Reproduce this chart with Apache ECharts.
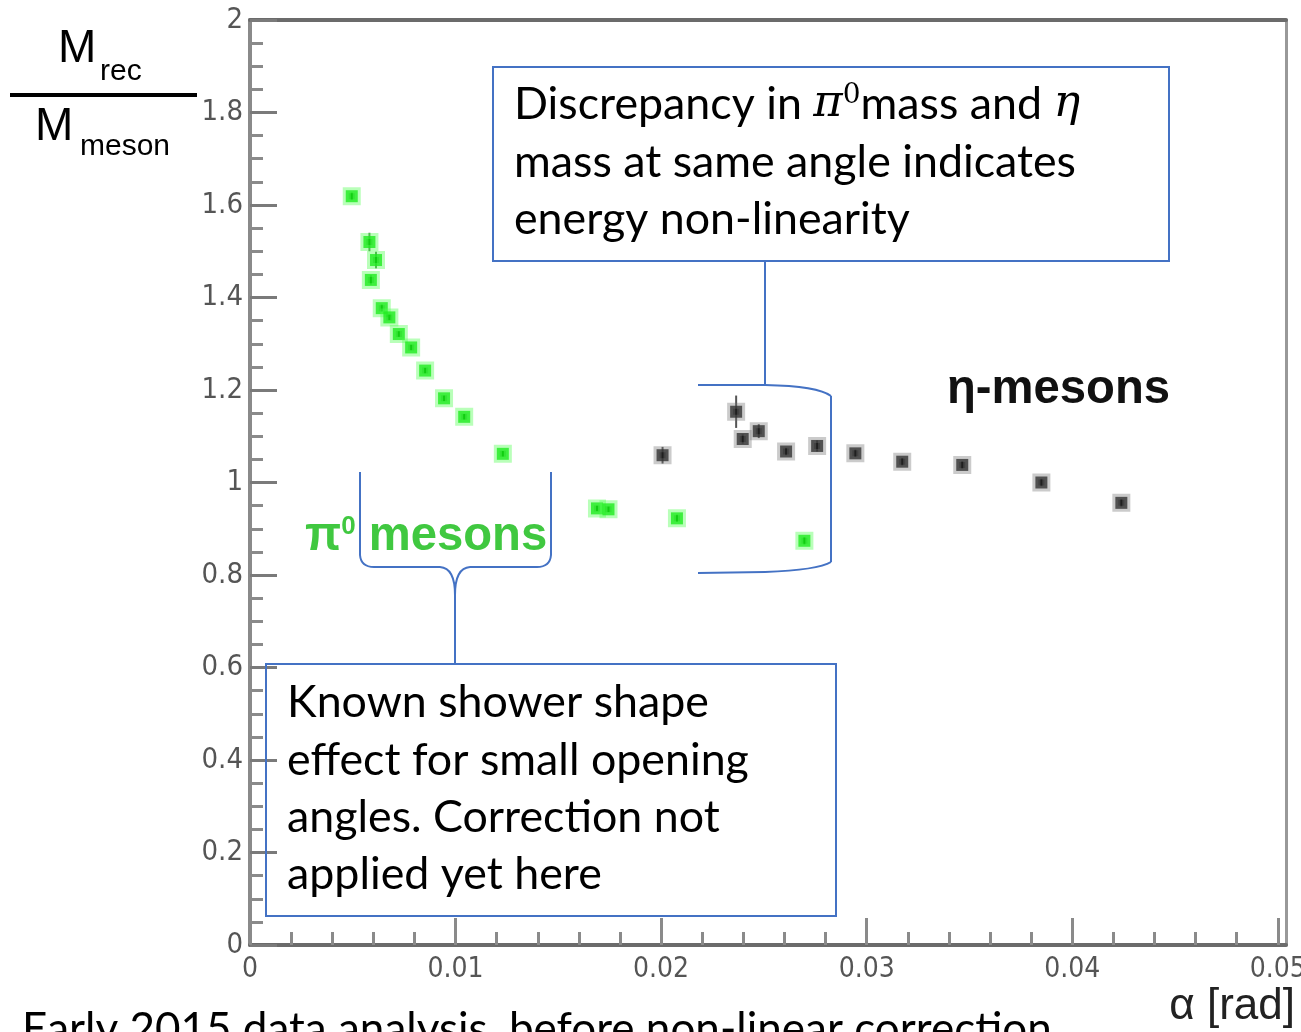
<!DOCTYPE html>
<html>
<head>
<meta charset="utf-8">
<script src="https://cdn.jsdelivr.net/npm/echarts@6/dist/echarts.min.js"></script>
<style>
html, body { margin: 0; padding: 0; background: #fff; }
#main { width: 1301px; height: 1032px; }
</style>
</head>
<body>
<div id="main"></div>
<script>
// pi0 candidates (green points)
var piAlpha = [0.00495, 0.00581, 0.00613, 0.00588, 0.00641, 0.00678, 0.00724, 0.00784, 0.00852, 0.00944, 0.01042, 0.0123, 0.01688, 0.01744, 0.02077, 0.02697];
var piRatio = [1.619, 1.520, 1.481, 1.438, 1.377, 1.357, 1.321, 1.292, 1.242, 1.182, 1.142, 1.062, 0.944, 0.942, 0.9225, 0.874];
var piErr   = [0.008, 0.02, 0.018, 0.01, 0.008, 0.006, 0.006, 0.006, 0.006, 0.006, 0.006, 0.006, 0.006, 0.006, 0.008, 0.008];

// eta candidates (black points)
var etaAlpha = [0.02007, 0.02365, 0.02397, 0.02475, 0.02608, 0.02759, 0.02945, 0.03173, 0.03465, 0.0385, 0.04239];
var etaRatio = [1.059, 1.153, 1.094, 1.111, 1.067, 1.079, 1.063, 1.045, 1.038, 1.000, 0.956];
var etaErr   = [0.018, 0.035, 0.01, 0.015, 0.008, 0.012, 0.008, 0.008, 0.008, 0.008, 0.008];

// axis ticks
var xMajor = [0, 0.01, 0.02, 0.03, 0.04, 0.05];
var xMinor = [0.002, 0.004, 0.006, 0.008, 0.012, 0.014, 0.016, 0.018, 0.022, 0.024, 0.026, 0.028,
              0.032, 0.034, 0.036, 0.038, 0.042, 0.044, 0.046, 0.048];
var xMax = 0.0504;

var NUM_FONT = "'Liberation Sans Narrow', 'DejaVu Sans Condensed', 'Liberation Sans', sans-serif";
var TXT_FONT = "Lato";
var ROOT_FONT = "'Liberation Sans', Arial, sans-serif";
var BLUE = '#4472c4';

var measureCtx = document.createElement('canvas').getContext('2d');
function fitSize(text, font, width) {
    measureCtx.font = '100px ' + font;
    return 100 * width / measureCtx.measureText(text).width;
}
// y of the text centre for a given baseline
function midY(baseline, size, k) {
    return baseline - k * size;
}

var calloutSize = fitSize('mass at same angle indicates', TXT_FONT, 562);
var bottomSize = fitSize('Early 2015 data analysis, before non-linear correction', TXT_FONT, 1030);
var labelSize = fitSize('η-mesons', 'bold ' + ROOT_FONT, 223) * 0.91;
var LATO_K = 0.387, ARIAL_K = 0.3465;

function calloutLine(x, baseline, text) {
    return {
        type: 'text', x: x, y: midY(baseline, calloutSize, LATO_K), z: 100,
        style: { text: text, font: calloutSize + 'px ' + TXT_FONT, fill: '#000', verticalAlign: 'middle' }
    };
}
function seg(x1, y1, x2, y2) {
    return { type: 'line', z: 99, shape: { x1: x1, y1: y1, x2: x2, y2: y2 },
             style: { stroke: BLUE, lineWidth: 2 } };
}
function curve(x1, y1, cx, cy, x2, y2) {
    return { type: 'bezierCurve', z: 99, shape: { x1: x1, y1: y1, cpx1: cx, cpy1: cy, x2: x2, y2: y2 },
             style: { fill: 'none', stroke: BLUE, lineWidth: 2 } };
}

function errorBars(alpha, ratio, err, color) {
    return {
        type: 'custom',
        data: alpha.map(function(a, i) { return [a, ratio[i], err[i]]; }),
        encode: { x: 0, y: 1 },
        z: 3,
        renderItem: function(params, api) {
            var hi = api.coord([api.value(0), api.value(1) + api.value(2)]);
            var lo = api.coord([api.value(0), api.value(1) - api.value(2)]);
            return {
                type: 'line',
                shape: { x1: hi[0], y1: hi[1], x2: lo[0], y2: lo[1] },
                style: { stroke: color, lineWidth: 2 }
            };
        }
    };
}

var option = {
    animation: false,
    backgroundColor: '#fff',
    grid: { left: 250, top: 20, right: 15, bottom: 87, outerBoundsMode: 'none', containLabel: false },
    xAxis: [{
        type: 'value', min: 0, max: xMax, position: 'bottom',
        axisLine: { onZero: false, lineStyle: { color: '#6b6b6b', width: 4 } },
        axisTick: { inside: true, length: 27, customValues: xMajor, lineStyle: { color: '#8a8a8a', width: 3 } },
        axisLabel: {
            customValues: xMajor, margin: 11, fontSize: 28, color: '#555', fontFamily: NUM_FONT,
            formatter: function(v) { return v === 0 ? '0' : v.toFixed(2); }
        },
        splitLine: { show: false }
    }, {
        type: 'value', min: 0, max: xMax, position: 'bottom',
        axisLine: { show: false, onZero: false },
        axisTick: { inside: true, length: 13, customValues: xMinor, lineStyle: { color: '#8a8a8a', width: 3 } },
        axisLabel: { show: false },
        splitLine: { show: false }
    }, {
        type: 'value', min: 0, max: xMax, position: 'top',
        axisLine: { onZero: false, lineStyle: { color: '#6b6b6b', width: 4 } },
        axisTick: { show: false },
        axisLabel: { show: false },
        splitLine: { show: false }
    }],
    yAxis: [{
        type: 'value', min: 0, max: 2, interval: 0.2, position: 'left',
        axisLine: { show: true, onZero: false, lineStyle: { color: '#8a8a8a', width: 4 } },
        axisTick: { show: true, inside: true, length: 27, lineStyle: { color: '#7a7a7a', width: 3 } },
        minorTick: { show: true, splitNumber: 4, length: 13, lineStyle: { color: '#8a8a8a', width: 3 } },
        axisLabel: { margin: 7, fontSize: 29, color: '#555', fontFamily: NUM_FONT },
        splitLine: { show: false }
    }, {
        type: 'value', min: 0, max: 2, position: 'right',
        axisLine: { show: true, onZero: false, lineStyle: { color: '#999', width: 3 } },
        axisTick: { show: false },
        axisLabel: { show: false },
        splitLine: { show: false }
    }],
    series: [
        errorBars(piAlpha, piRatio, piErr, '#4f8f4f'),
        errorBars(etaAlpha, etaRatio, etaErr, '#555'),
        {
            name: 'π0', type: 'scatter', symbol: 'rect', symbolSize: 12, z: 4,
            data: piAlpha.map(function(a, i) { return [a, piRatio[i]]; }),
            itemStyle: { color: '#00dd00', borderColor: 'rgba(80,255,80,0.5)', borderWidth: 6 }
        },
        {
            name: 'η', type: 'scatter', symbol: 'rect', symbolSize: 12, z: 4,
            data: etaAlpha.map(function(a, i) { return [a, etaRatio[i]]; }),
            itemStyle: { color: '#111', borderColor: 'rgba(110,110,110,0.45)', borderWidth: 6 }
        }
    ],
    graphic: [
        // y title: Mrec / Mmeson
        { type: 'text', x: 58, y: midY(65, 46, ARIAL_K), z: 100,
          style: { text: 'M', font: '46px ' + ROOT_FONT, fill: '#000', verticalAlign: 'middle' } },
        { type: 'text', x: 100, y: midY(82, 30, ARIAL_K), z: 100,
          style: { text: 'rec', font: '30px ' + ROOT_FONT, fill: '#000', verticalAlign: 'middle' } },
        { type: 'rect', shape: { x: 10, y: 93, width: 187, height: 4 }, z: 100, style: { fill: '#000' } },
        { type: 'text', x: 35, y: midY(143, 46, ARIAL_K), z: 100,
          style: { text: 'M', font: '46px ' + ROOT_FONT, fill: '#000', verticalAlign: 'middle' } },
        { type: 'text', x: 80, y: midY(157, 30, ARIAL_K), z: 100,
          style: { text: 'meson', font: '30px ' + ROOT_FONT, fill: '#000', verticalAlign: 'middle' } },
        // x title
        { type: 'text', x: 1295, y: midY(1022, 44, ARIAL_K), z: 100,
          style: { text: 'α [rad]', font: '44px ' + ROOT_FONT, fill: '#222', align: 'right', verticalAlign: 'middle' } },
        // labels inside plot
        { type: 'text', x: 947, y: 390, z: 100,
          style: { text: 'η-mesons', font: 'bold ' + labelSize + 'px ' + ROOT_FONT, fill: '#111', verticalAlign: 'middle' } },
        { type: 'text', x: 305, y: 537, z: 100,
          style: {
              text: '{p|π}{s|0}{p| mesons}', verticalAlign: 'middle',
              rich: {
                  p: { font: 'bold ' + labelSize + 'px ' + ROOT_FONT, fill: '#40c840' },
                  s: { font: 'bold ' + Math.round(labelSize * 0.55) + 'px ' + ROOT_FONT, fill: '#40c840', verticalAlign: 'top' }
              }
          } },
        // upper callout
        { type: 'rect', shape: { x: 493, y: 67, width: 676, height: 194 }, z: 99,
          style: { fill: 'none', stroke: BLUE, lineWidth: 2 } },
        { type: 'text', x: 514, y: midY(122, calloutSize, LATO_K), z: 100,
          style: {
              text: '{t|Discrepancy in }{m|π}{s|0}{t|mass and }{m|η}', verticalAlign: 'middle',
              rich: {
                  t: { font: calloutSize + 'px ' + TXT_FONT, fill: '#000' },
                  m: { font: 'italic ' + calloutSize + 'px "DejaVu Serif"', fill: '#000' },
                  s: { font: Math.round(calloutSize * 0.62) + 'px "DejaVu Serif"', fill: '#000', verticalAlign: 'top' }
              }
          } },
        calloutLine(514, 180, 'mass at same angle indicates'),
        calloutLine(514, 237, 'energy non-linearity'),
        // bracket round the eta points, tied to the upper callout
        seg(765, 261, 765, 385),
        seg(698, 385, 765, 385),
        curve(765, 385, 818, 386, 831, 396),
        seg(831, 396, 831, 562),
        curve(831, 562, 818, 570, 765, 572),
        seg(765, 572, 698, 573),
        // lower callout
        { type: 'rect', shape: { x: 266, y: 664, width: 570, height: 252 }, z: 99,
          style: { fill: 'none', stroke: BLUE, lineWidth: 2 } },
        calloutLine(287, 720, 'Known shower shape'),
        calloutLine(287, 778, 'effect for small opening'),
        calloutLine(287, 835, 'angles. Correction not'),
        calloutLine(287, 892, 'applied yet here'),
        // brace under the pi0 label
        seg(360, 472, 360, 555),
        curve(360, 555, 361, 567, 374, 567),
        seg(374, 567, 440, 567),
        curve(440, 567, 455, 568, 455, 595),
        seg(551, 472, 551, 555),
        curve(551, 555, 550, 567, 537, 567),
        seg(537, 567, 470, 567),
        curve(470, 567, 455, 568, 455, 595),
        seg(455, 595, 455, 663),
        // footnote (cut by the bottom edge)
        { type: 'text', x: 22, y: midY(1047, bottomSize, LATO_K), z: 100,
          style: { text: 'Early 2015 data analysis, before non-linear correction', font: bottomSize + 'px ' + TXT_FONT, fill: '#000', verticalAlign: 'middle' } }
    ]
};

var myChart = echarts.init(document.getElementById('main'));
myChart.setOption(option);
</script>
</body>
</html>
